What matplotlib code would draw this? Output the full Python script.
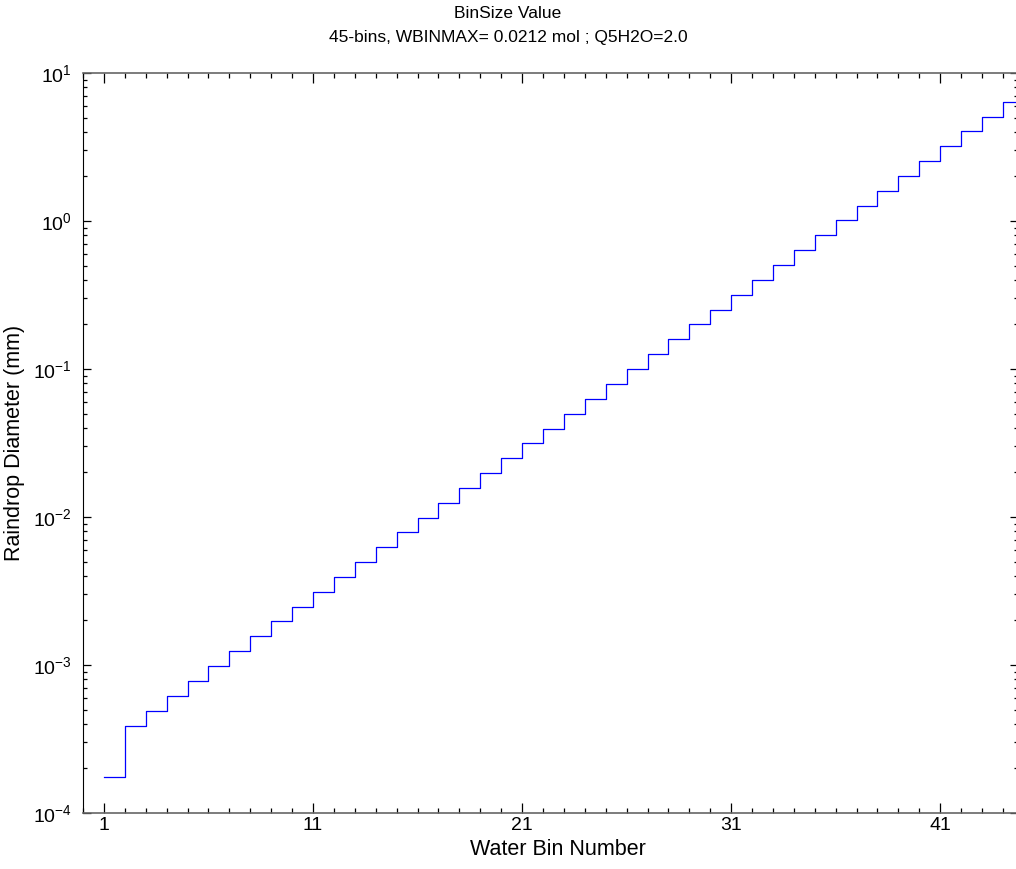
import matplotlib
matplotlib.use("Agg")
import matplotlib.pyplot as plt
from matplotlib.ticker import FixedLocator, MultipleLocator, LogLocator
import numpy as np

plt.rcParams['font.family'] = ['Liberation Sans', 'DejaVu Sans']
plt.rcParams['mathtext.default'] = 'regular'

# water bin numbers and raindrop diameter (mm)
bins = list(range(1, 46))
diameter = [
    1.75e-4, 3.90e-4, 4.91e-4, 6.19e-4, 7.80e-4, 9.83e-4, 1.24e-3, 1.56e-3, 1.97e-3,
    2.48e-3, 3.12e-3, 3.93e-3, 4.95e-3, 6.24e-3, 7.86e-3, 9.91e-3, 1.25e-2, 1.57e-2,
    1.98e-2, 2.50e-2, 3.15e-2, 3.96e-2, 4.99e-2, 6.29e-2, 7.93e-2, 9.98e-2, 0.126,
    0.159, 0.200, 0.252, 0.317, 0.400, 0.504, 0.634, 0.799, 1.01, 1.27, 1.60, 2.01,
    2.54, 3.20, 4.03, 5.07, 6.39, 8.05,
]
xtick_vals = [1, 11, 21, 31, 41]

fig = plt.figure(figsize=(10.16, 8.69), dpi=100)
# right spine sits just past the image edge, like the original crop
ax = fig.add_axes([83 / 1016, 1 - 813 / 869, (1018 - 83) / 1016, (813 - 73) / 869])

ax.step(bins, diameter, where='post', color='#0000ff', lw=0.9)

ax.set_yscale('log')
ax.set_ylim(1e-4, 1e1)
ax.set_xlim(0, 44.72)

ax.xaxis.set_major_locator(FixedLocator(xtick_vals))
ax.xaxis.set_minor_locator(MultipleLocator(1))
ax.yaxis.set_major_locator(LogLocator(base=10, numticks=10))
ax.yaxis.set_minor_locator(LogLocator(base=10, subs=np.arange(2, 10), numticks=10))

ax.tick_params(axis='x', which='major', direction='in', length=7, width=0.9,
               top=True, labelsize=14, pad=3)
ax.tick_params(axis='x', which='minor', direction='in', length=3.5, width=0.9, top=True)
ax.tick_params(axis='y', which='major', direction='in', length=6, width=0.9,
               right=True, labelsize=14, pad=8)
ax.tick_params(axis='y', which='minor', direction='in', length=3, width=0.9, right=True)

for s in ['top', 'bottom']:
    ax.spines[s].set_color('#666666')
    ax.spines[s].set_linewidth(1.2)
ax.spines['left'].set_color('black')

ax.set_xlabel('Water Bin Number', fontsize=15.5)
ax.xaxis.set_label_coords(0.508, -0.035, transform=ax.transAxes)
ax.xaxis.label.set_va('top')
ax.set_ylabel('Raindrop Diameter (mm)', fontsize=15.5, labelpad=6)

# title is centred on the figure, not on the axes
fig.text(0.5, 1 - 6 / 869, 'BinSize Value\n45-bins, WBINMAX= 0.0212 mol ; Q5H2O=2.0',
         ha='center', va='top', fontsize=12.5, linespacing=1.75)

fig.savefig('out.png', dpi=100)
